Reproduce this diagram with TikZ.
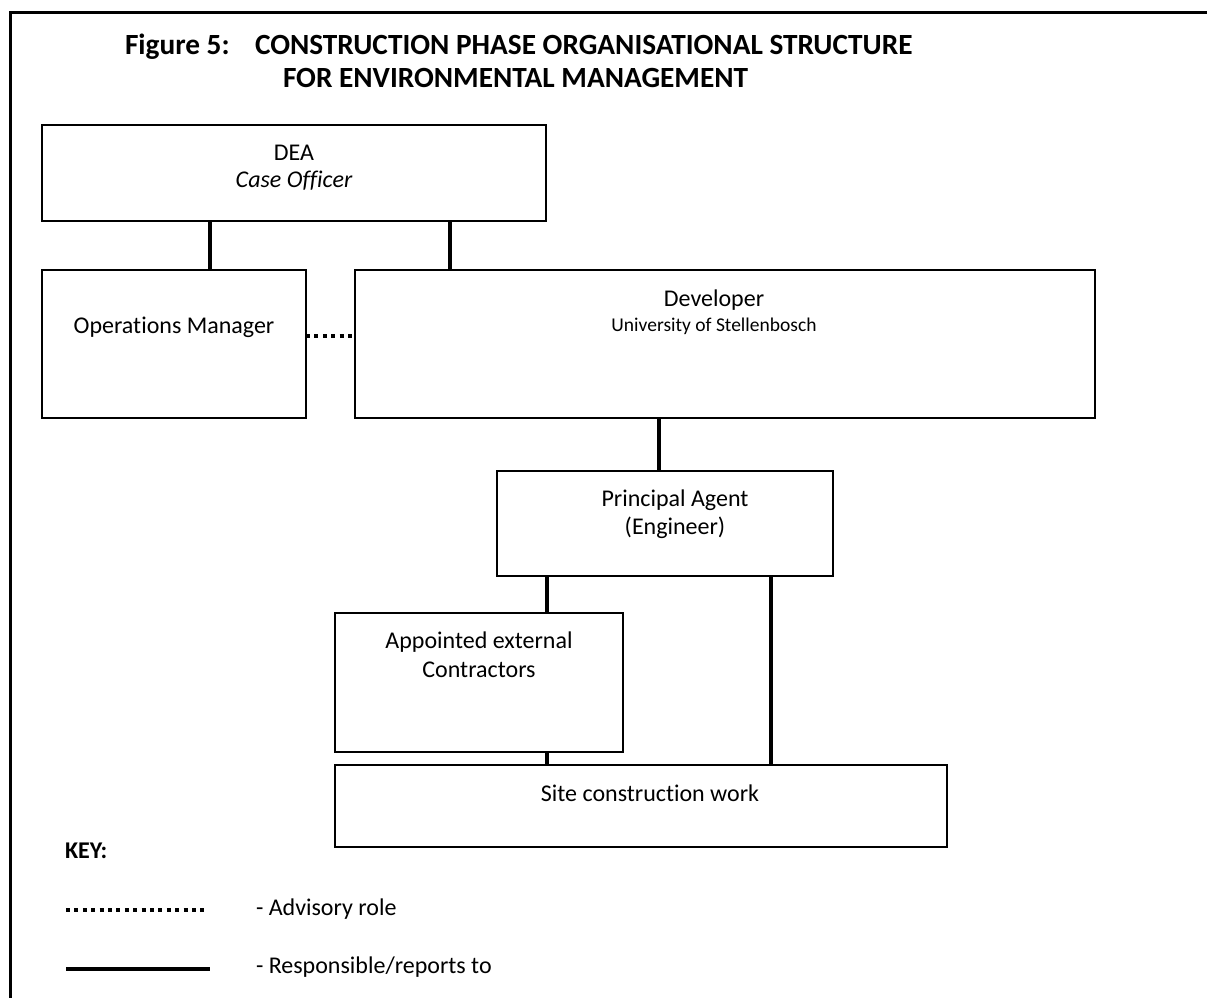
\documentclass[tikz,border=0pt]{standalone}
\usepackage{fontspec}
\setmainfont{Carlito}[Ligatures=NoCommon]
\newcommand{\bodyfont}{\fontsize{24}{29}\selectfont}
\newcommand{\smallfont}{\fontsize{19.5}{24}\selectfont}
\newcommand{\titlefont}{\fontsize{29.3}{34}\selectfont\bfseries}
\tikzset{
  box/.style={draw, line width=2.5pt, inner sep=0pt, outer sep=0pt, anchor=north west},
  conn/.style={line width=4pt},
  adv/.style={line width=4pt, dash pattern=on 4pt off 4.4pt},
  frame/.style={line width=3pt},
  txt/.style={inner sep=0pt, outer sep=0pt, anchor=base, font=\bodyfont},
  ltxt/.style={inner sep=0pt, outer sep=0pt, anchor=base west, font=\bodyfont},
}
\begin{document}
\begin{tikzpicture}[x=1pt, y=-1pt]
\useasboundingbox (0,0) rectangle (1207,998);
% frame (top and left)
\coordinate (fr1) at (1207,12.5);
\coordinate (fr2) at (10,12.5);
\coordinate (fr3) at (10,998);
\draw[frame] (fr1) -- (fr2) -- (fr3);
% title
\node[ltxt, font=\titlefont] (t1) at (125,55) {Figure 5:};
\node[ltxt, font=\titlefont] (t2) at (255,55) {CONSTRUCTION PHASE ORGANISATIONAL STRUCTURE};
\node[ltxt, font=\titlefont] (t3) at (283,88) {FOR ENVIRONMENTAL MANAGEMENT};
% boxes
\node[box, minimum width=504pt, minimum height=96pt] (dea) at (42,125) {};
\node[box, minimum width=264pt, minimum height=148pt] (ops) at (42,270) {};
\node[box, minimum width=740pt, minimum height=148pt] (dev) at (355,270) {};
\node[box, minimum width=336pt, minimum height=105pt] (pa) at (497,471) {};
\node[box, minimum width=288pt, minimum height=139pt] (con) at (335,613) {};
\node[box, minimum width=612pt, minimum height=82pt] (site) at (335,765) {};
% texts
\node[txt] (deat) at (294,160) {DEA};
\node[txt] (deac) at (294,187) {\itshape Case Officer};
\node[txt] (opst) at (174,333) {Operations Manager};
\node[txt] (devt) at (714,306) {Developer};
\node[txt, font=\smallfont] (devu) at (714,331) {University of Stellenbosch};
\node[txt] (pat1) at (675,506) {Principal Agent};
\node[txt] (pat2) at (675,534) {(Engineer)};
\node[txt] (cont1) at (479,648) {Appointed external};
\node[txt] (cont2) at (479,677) {Contractors};
\node[txt] (sitet) at (650,801) {Site construction work};
% connectors
\draw[conn] ([xshift=168pt]dea.south west) -- ([xshift=168pt]ops.north west);
\draw[conn] ([xshift=408pt]dea.south west) -- ([xshift=95pt]dev.north west);
\draw[adv] ([yshift=-66pt]ops.north east) -- ([yshift=-66pt]dev.north west);
\draw[conn] ([xshift=304pt]dev.south west) -- ([xshift=162pt]pa.north west);
\draw[conn] ([xshift=50pt]pa.south west) -- ([xshift=212pt]con.north west);
\draw[conn] ([xshift=212pt]con.south west) -- ([xshift=212pt]site.north west);
\draw[conn] ([xshift=274pt]pa.south west) -- ([xshift=436pt]site.north west);
% key
\node[ltxt, font=\bodyfont\bfseries] (key) at (65,858) {KEY:};
\coordinate (k1a) at (66,910);
\coordinate (k1b) at (206,910);
\coordinate (k2a) at (66,969);
\coordinate (k2b) at (210,969);
\draw[adv] (k1a) -- (k1b);
\draw[conn] (k2a) -- (k2b);
\node[ltxt] (kt1) at (256,915) {- Advisory role};
\node[ltxt] (kt2) at (256,973) {- Responsible/reports to};
\end{tikzpicture}
\end{document}
